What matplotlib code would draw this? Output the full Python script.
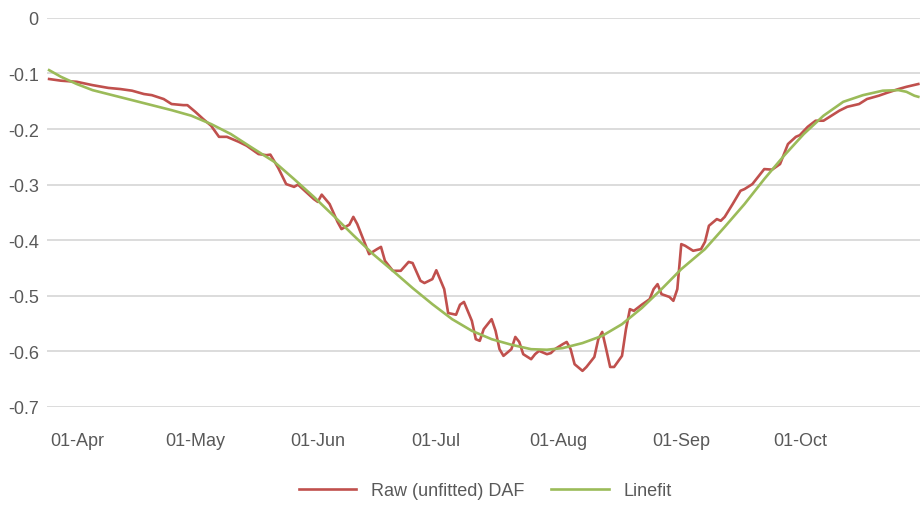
import numpy as np
import pandas as pd
import matplotlib
matplotlib.use("Agg")
import matplotlib.pyplot as plt
import matplotlib.dates as mdates

# series start (day 0) and month ticks shown on the axis
start_date = "2019-03-25"
month_ticks = ["2019-04-01", "2019-05-01", "2019-06-01", "2019-07-01",
               "2019-08-01", "2019-09-01", "2019-10-01"]

# raw DAF (days after start_date, value)
raw_day = [0, 3, 7, 11, 15, 18, 21, 24, 26, 29, 31, 34, 35, 37, 39, 41, 43, 45,
           48, 50, 53, 55, 56, 58, 60, 62, 63, 65, 67, 68, 69, 71, 73, 74, 76,
           77, 78, 80, 81, 83, 84, 85, 87, 89, 91, 92, 94, 95, 97, 98, 100, 101,
           103, 104, 105, 107, 108, 109, 110, 112, 113, 114, 115, 117, 118, 119,
           120, 122, 123, 124, 126, 127, 128, 130, 131, 132, 133, 135, 136, 138,
           139, 140, 141, 142, 143, 145, 146, 147, 148, 150, 152, 153, 154, 155,
           157, 158, 159, 160, 161, 163, 165, 166, 167, 169, 170, 171, 173, 175,
           176, 178, 180, 181, 183, 185, 186, 187, 189, 190, 192, 194, 196, 198,
           200, 202, 205, 207, 210, 212, 215, 217, 220]
raw_daf = [-0.110, -0.113, -0.115, -0.121, -0.126, -0.128, -0.131, -0.137,
           -0.139, -0.146, -0.155, -0.157, -0.157, -0.169, -0.182, -0.194,
           -0.214, -0.214, -0.223, -0.230, -0.245, -0.247, -0.246, -0.270,
           -0.299, -0.304, -0.300, -0.313, -0.326, -0.331, -0.318, -0.335,
           -0.367, -0.380, -0.372, -0.358, -0.371, -0.407, -0.425, -0.416,
           -0.412, -0.437, -0.455, -0.455, -0.439, -0.441, -0.473, -0.477,
           -0.470, -0.454, -0.488, -0.531, -0.534, -0.516, -0.511, -0.545,
           -0.578, -0.581, -0.560, -0.542, -0.563, -0.596, -0.608, -0.596,
           -0.574, -0.583, -0.605, -0.614, -0.605, -0.599, -0.605, -0.603,
           -0.596, -0.587, -0.583, -0.596, -0.623, -0.635, -0.628, -0.610,
           -0.578, -0.565, -0.596, -0.628, -0.628, -0.608, -0.560, -0.524,
           -0.527, -0.516, -0.506, -0.488, -0.479, -0.497, -0.502, -0.509,
           -0.488, -0.407, -0.410, -0.419, -0.416, -0.403, -0.374, -0.362,
           -0.365, -0.358, -0.335, -0.311, -0.308, -0.299, -0.281, -0.272,
           -0.273, -0.263, -0.245, -0.227, -0.214, -0.211, -0.196, -0.185,
           -0.185, -0.176, -0.167, -0.160, -0.155, -0.146, -0.140, -0.135,
           -0.128, -0.124, -0.119]

# fitted line
fit_day = [0, 3, 7, 11, 16, 21, 26, 31, 36, 41, 46, 51, 57, 62, 67, 72, 77, 82,
           87, 92, 97, 102, 107, 112, 117, 122, 126, 130, 135, 140, 145, 150,
           155, 160, 166, 171, 176, 181, 186, 191, 196, 201, 206, 211, 215, 217,
           219, 220]
fit_daf = [-0.094, -0.106, -0.119, -0.130, -0.139, -0.148, -0.157, -0.166,
           -0.176, -0.191, -0.209, -0.232, -0.259, -0.290, -0.322, -0.356,
           -0.391, -0.425, -0.455, -0.486, -0.515, -0.542, -0.563, -0.578,
           -0.588, -0.596, -0.597, -0.594, -0.585, -0.572, -0.551, -0.522,
           -0.488, -0.452, -0.416, -0.376, -0.335, -0.290, -0.248, -0.209,
           -0.176, -0.151, -0.139, -0.131, -0.130, -0.133, -0.140, -0.142]

t0 = pd.Timestamp(start_date)
raw_dates = t0 + pd.to_timedelta(raw_day, unit="D")
fit_dates = t0 + pd.to_timedelta(fit_day, unit="D")

plt.rcParams['font.family'] = ['Liberation Sans Narrow', 'Liberation Sans', 'DejaVu Sans']

fig = plt.figure(figsize=(9.24, 5.10), dpi=100)
ax = fig.add_axes([0.051, 0.2, 0.945, 0.763])

ax.plot(raw_dates, raw_daf, color="#C0504D", lw=1.9, label="Raw (unfitted) DAF",
        zorder=3, solid_joinstyle="round")
ax.plot(fit_dates, fit_daf, color="#9BBB59", lw=1.9, label="Linefit",
        zorder=4, solid_joinstyle="round")

ax.set_ylim(-0.7, 0)
ax.set_yticks(np.arange(-0.7, 0.01, 0.1))
ax.set_yticklabels(["-0.7", "-0.6", "-0.5", "-0.4", "-0.3", "-0.2", "-0.1", "0"])
ax.set_xlim(t0 - pd.Timedelta(hours=12), t0 + pd.Timedelta(days=220.5))
ax.set_xticks(pd.to_datetime(month_ticks))
ax.xaxis.set_major_formatter(mdates.DateFormatter("%d-%b"))

ax.grid(axis="y", color="#D9D9D9", lw=1.3)
ax.set_axisbelow(True)
for s in ax.spines.values():
    s.set_visible(False)
ax.tick_params(length=0, labelsize=13, colors="#595959")
ax.tick_params(axis="x", pad=18)
ax.tick_params(axis="y", pad=6)

fig.legend(loc="lower center", ncol=2, frameon=False, fontsize=13,
           bbox_to_anchor=(0.525, -0.012), handlelength=3.2,
           labelcolor="#595959", columnspacing=1.5)

fig.savefig("out.png", dpi=100)
